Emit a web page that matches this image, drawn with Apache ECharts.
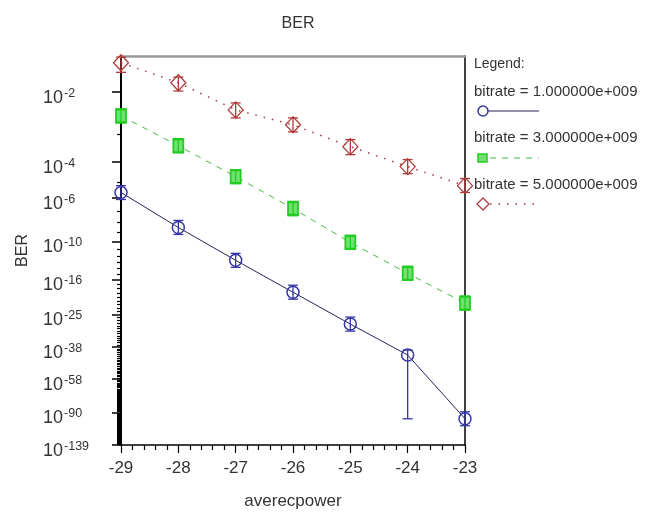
<!DOCTYPE html>
<html><head><meta charset="utf-8">
<script src="https://cdn.jsdelivr.net/npm/echarts@6/dist/echarts.min.js"></script>
<style>html,body{margin:0;padding:0;background:#fff}#c{width:645px;height:515px}</style>
</head><body><div id="c"></div>
<script>
// ---- data (log10 of BER) ----
const xValues = [-29, -28, -27, -26, -25, -24, -23];
const ber1 = [-5.63, -8.47, -12.63, -18.83, -28.30, -42.29, -98.04];
const ber1Hi = [-5.21, -7.79, -11.59, -17.23, -25.87, -39.64, -89.34];
const ber1Lo = [-6.10, -9.21, -13.78, -20.57, -30.99, -98.04, -107.5];
const ber3 = [-2.50, -3.38, -4.71, -6.77, -10.14, -14.85, -21.65];
const ber3Hi = [-2.34, -3.14, -4.36, -6.25, -9.31, -13.61, -19.80];
const ber3Lo = [-2.68, -3.63, -5.09, -7.35, -11.04, -16.19, -23.65];
const ber5 = [-1.55, -1.84, -2.36, -2.73, -3.41, -4.22, -5.21];
const ber5Hi = [-1.48, -1.75, -2.21, -2.55, -3.17, -3.91, -4.81];
const ber5Lo = [-1.68, -1.98, -2.55, -2.93, -3.71, -4.56, -5.63];
const majorExp = [2, 4, 6, 10, 16, 25, 38, 58, 90, 139];
const yTopLog = -1.467;
const yBottomLog = -139;
const legendNames = ['bitrate = 1.000000e+009', 'bitrate = 3.000000e+009', 'bitrate = 5.000000e+009'];

// ---- BER (Q-function) scale: position = log10(Qinv(BER)) ----
function log10Q(x) {
  const z = x / Math.SQRT2;
  const t = 1 / (1 + 0.5 * z);
  const p = -z * z - 1.26551223 + t * (1.00002368 + t * (0.37409196 + t * (0.09678418 + t * (-0.18628806 + t * (0.27886807 + t * (-1.13520398 + t * (1.48851587 + t * (-0.82215223 + t * 0.17087277))))))));
  return (Math.log(0.5) + Math.log(t) + p) / Math.LN10;
}
function qinv(e) {
  let lo = 0, hi = 60;
  for (let i = 0; i < 80; i++) { const m = (lo + hi) / 2; if (log10Q(m) > e) lo = m; else hi = m; }
  return (lo + hi) / 2;
}
const T = e => Math.log10(qinv(e));

const majorVals = majorExp.map(e => T(-e));
const minorVals = [];
for (let e = 2; e <= 139; e++) if (majorExp.indexOf(e) < 0) minorVals.push(T(-e));
const yMin = T(yTopLog), yMax = T(yBottomLog);

const FONT = '"Liberation Sans", Arial, sans-serif';
const TXT = '#333';

function pts(arr) { return xValues.map((x, i) => [x, T(arr[i])]); }
function errs(lo, hi) { return xValues.map((x, i) => [x, T(lo[i]), T(hi[i])]); }
function errSeries(lo, hi, color) {
  return {
    type: 'custom', xAxisIndex: 0, yAxisIndex: 0, z: 4,
    data: errs(lo, hi),
    encode: { x: 0, y: [1, 2] },
    renderItem: function (params, api) {
      const x = api.value(0);
      const a = api.coord([x, api.value(1)]);
      const b = api.coord([x, api.value(2)]);
      const w = 5;
      const st = { stroke: color, lineWidth: 1.3 };
      return { type: 'group', children: [
        { type: 'line', shape: { x1: a[0], y1: a[1], x2: b[0], y2: b[1] }, style: st },
        { type: 'line', shape: { x1: a[0] - w, y1: a[1], x2: a[0] + w, y2: a[1] }, style: st },
        { type: 'line', shape: { x1: b[0] - w, y1: b[1], x2: b[0] + w, y2: b[1] }, style: st }
      ]};
    }
  };
}

const chart = echarts.init(document.getElementById('c'), null, { renderer: 'canvas' });
const lx = 474;
chart.setOption({
  animation: false,
  backgroundColor: '#fff',
  textStyle: { fontFamily: FONT },
  title: { text: 'BER', left: 293, top: 11, textAlign: 'center',
    textStyle: { fontSize: 16, fontWeight: 'normal', color: TXT, fontFamily: FONT } },
  grid: { left: 121, right: 180, top: 56, bottom: 70, containLabel: false },
  xAxis: [
    { type: 'value', min: -29, max: -23, interval: 1, position: 'bottom',
      name: 'averecpower', nameLocation: 'middle', nameGap: 48,
      nameTextStyle: { fontSize: 17, color: TXT, fontFamily: FONT },
      axisLine: { onZero: false, lineStyle: { color: '#000', width: 1.5 } },
      axisTick: { length: 8, lineStyle: { color: '#000', width: 1.2 } },
      minorTick: { show: true, splitNumber: 5, length: 5, lineStyle: { color: '#000', width: 1.2 } },
      axisLabel: { fontSize: 17, color: TXT, margin: 15, fontFamily: FONT },
      splitLine: { show: false } },
    { type: 'value', min: -29, max: -23, position: 'top',
      axisLine: { onZero: false, lineStyle: { color: '#999', width: 2.5 } },
      axisTick: { show: false }, axisLabel: { show: false }, splitLine: { show: false } }
  ],
  yAxis: [
    { type: 'value', min: yMin, max: yMax, inverse: true, position: 'left',
      name: 'BER', nameLocation: 'middle', nameGap: 90, nameRotate: 90,
      nameTextStyle: { fontSize: 16, color: TXT, fontFamily: FONT },
      axisLine: { onZero: false, lineStyle: { color: '#000', width: 2 } },
      axisTick: { customValues: majorVals, length: 9, lineStyle: { color: '#000', width: 1.5 } },
      axisLabel: { customValues: majorVals, align: 'left', margin: 78, color: TXT, padding: [10, 0, 0, 0],
        formatter: function (v) {
          let k = 0, best = 1e9;
          majorVals.forEach((m, i) => { if (Math.abs(m - v) < best) { best = Math.abs(m - v); k = i; } });
          return '{b|10}{s|-' + majorExp[k] + '}';
        },
        rich: {
          b: { fontSize: 18, color: TXT, fontFamily: FONT, verticalAlign: 'bottom' },
          s: { fontSize: 12.5, color: TXT, fontFamily: FONT, verticalAlign: 'top', padding: [0, 0, 7, 1] }
        } },
      splitLine: { show: false } },
    { type: 'value', min: yMin, max: yMax, inverse: true, position: 'left',
      axisLine: { show: false },
      axisTick: { customValues: minorVals, length: 4, lineStyle: { color: '#000', width: 1.2 } },
      axisLabel: { show: false }, splitLine: { show: false } },
    { type: 'value', min: yMin, max: yMax, inverse: true, position: 'right',
      axisLine: { onZero: false, lineStyle: { color: '#000', width: 1.5 } },
      axisTick: { show: false }, axisLabel: { show: false }, splitLine: { show: false } }
  ],
  series: [
    { name: legendNames[0], type: 'line', data: pts(ber1), z: 3,
      lineStyle: { color: '#252560', width: 1 },
      symbol: 'circle', symbolSize: 12,
      itemStyle: { color: 'rgba(255,255,255,0)', borderColor: '#3535a5', borderWidth: 1.5 } },
    errSeries(ber1Lo, ber1Hi, '#3535a5'),
    { name: legendNames[1], type: 'line', data: pts(ber3), z: 3,
      lineStyle: { color: '#44bb44', width: 1, type: [6, 6] },
      symbol: 'rect', symbolSize: [10, 13],
      itemStyle: { color: '#70e070', borderColor: '#22cc22', borderWidth: 2 } },
    errSeries(ber3Lo, ber3Hi, '#22cc22'),
    { name: legendNames[2], type: 'line', data: pts(ber5), z: 3,
      lineStyle: { color: '#a03a3a', width: 1.5, type: [1.5, 7] },
      symbol: 'diamond', symbolSize: [15, 16],
      itemStyle: { color: 'rgba(255,255,255,0)', borderColor: '#b03a3a', borderWidth: 1.3 } },
    errSeries(ber5Lo, ber5Hi, '#b03a3a')
  ],
  graphic: [
    { type: 'text', left: lx, top: 57, style: { text: 'Legend:', fontSize: 14, fill: TXT, fontFamily: FONT } },
    { type: 'text', left: lx, top: 84, style: { text: legendNames[0], fontSize: 15, fill: TXT, fontFamily: FONT } },
    { type: 'line', shape: { x1: 478, y1: 111, x2: 539, y2: 111 }, style: { stroke: '#252560', lineWidth: 1.2 } },
    { type: 'circle', shape: { cx: 483, cy: 111, r: 5 }, style: { fill: '#fff', stroke: '#3535a5', lineWidth: 1.5 } },
    { type: 'text', left: lx, top: 130, style: { text: legendNames[1], fontSize: 15, fill: TXT, fontFamily: FONT } },
    { type: 'line', shape: { x1: 478, y1: 158, x2: 539, y2: 158 }, style: { stroke: '#44bb44', lineWidth: 1, lineDash: [6, 6] } },
    { type: 'rect', shape: { x: 478, y: 154, width: 9, height: 8 }, style: { fill: '#70e070', stroke: '#22cc22', lineWidth: 1.5 } },
    { type: 'text', left: lx, top: 177, style: { text: legendNames[2], fontSize: 15, fill: TXT, fontFamily: FONT } },
    { type: 'line', shape: { x1: 490, y1: 204, x2: 539, y2: 204 }, style: { stroke: '#a03a3a', lineWidth: 1.5, lineDash: [1.5, 7] } },
    { type: 'polygon', shape: { points: [[483, 198], [489, 204], [483, 210], [477, 204]] }, style: { fill: '#fff', stroke: '#b03a3a', lineWidth: 1.3 } }
  ]
});
</script>
</body></html>
